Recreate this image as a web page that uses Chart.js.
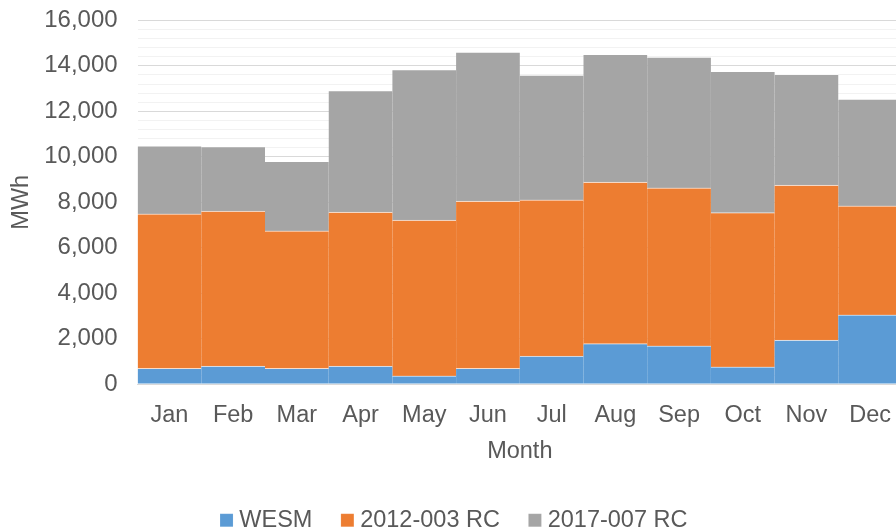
<!DOCTYPE html>
<html>
<head>
<meta charset="utf-8">
<script src="https://cdn.jsdelivr.net/npm/chart.js@4.4.1/dist/chart.umd.min.js"></script>
<style>
    html, body { margin: 0; padding: 0; background: #ffffff; overflow: hidden; }
    #wrap { width: 918px; height: 542px; }
</style>
</head>
<body>
<div id="wrap"><canvas id="energyChart" width="918" height="542"></canvas></div>
<script>
// Monthly energy by source (MWh)
const months = ['Jan', 'Feb', 'Mar', 'Apr', 'May', 'Jun', 'Jul', 'Aug', 'Sep', 'Oct', 'Nov', 'Dec'];
const wesm = [690, 780, 690, 780, 360, 690, 1230, 1780, 1680, 750, 1930, 3040];
const rc2012 = [6790, 6820, 6040, 6780, 6850, 7350, 6870, 7100, 6950, 6790, 6820, 4790];
const rc2017 = [3000, 2840, 3060, 5350, 6620, 6560, 5490, 5620, 5750, 6210, 4870, 4700];

const yMax = 16000;
const majorStep = 2000;
const minorStep = 400;

const textColor = '#595959';
const fontFamily = "'Liberation Sans', Arial, sans-serif";
const edge = 'rgba(255,255,255,0.45)';

function series(label, data, color) {
    return {
        label: label,
        data: data,
        backgroundColor: color,
        borderColor: edge,
        borderWidth: { top: 1, left: 0, right: 0, bottom: 0 },
        inflateAmount: 0.5,
        barPercentage: 1,
        categoryPercentage: 1
    };
}

const ctx = document.getElementById('energyChart');
new Chart(ctx, {
    type: 'bar',
    data: {
        labels: months,
        datasets: [
            series('WESM', wesm, '#5B9BD5'),
            series('2012-003 RC', rc2012, '#ED7D31'),
            series('2017-007 RC', rc2017, '#A5A5A5')
        ]
    },
    options: {
        responsive: false,
        animation: false,
        layout: {
            padding: { top: 7, left: 11, right: 16, bottom: 0 }
        },
        plugins: {
            legend: {
                position: 'bottom',
                labels: {
                    usePointStyle: true,
                    pointStyle: 'rect',
                    boxWidth: 2,
                    boxHeight: 13,
                    padding: 34,
                    color: textColor,
                    font: { size: 23.5, family: fontFamily }
                }
            },
            tooltip: { enabled: false }
        },
        scales: {
            x: {
                stacked: true,
                grid: { display: false, drawTicks: false },
                border: { display: true, color: '#d9d9d9' },
                ticks: {
                    padding: 17,
                    color: textColor,
                    font: { size: 23.5, family: fontFamily }
                },
                title: {
                    display: true,
                    text: 'Month',
                    color: textColor,
                    padding: { top: -9, bottom: 9 },
                    font: { size: 23.5, family: fontFamily }
                }
            },
            y: {
                stacked: true,
                min: 0,
                max: yMax,
                grid: {
                    drawTicks: true,
                    tickLength: 14,
                    tickColor: 'rgba(0,0,0,0)',
                    lineWidth: 1,
                    color: function(context) {
                        return context.tick.value % majorStep === 0 ? '#d9d9d9' : '#f2f2f2';
                    }
                },
                border: { display: false },
                ticks: {
                    stepSize: minorStep,
                    autoSkip: false,
                    padding: 6,
                    color: textColor,
                    font: { size: 24, family: fontFamily },
                    callback: function(value) {
                        return value % majorStep === 0 ? value.toLocaleString('en-US') : '';
                    }
                },
                title: {
                    display: true,
                    text: 'MWh',
                    color: textColor,
                    padding: { top: -4, bottom: 3 },
                    font: { size: 23.5, family: fontFamily }
                }
            }
        }
    }
});
</script>
</body>
</html>
